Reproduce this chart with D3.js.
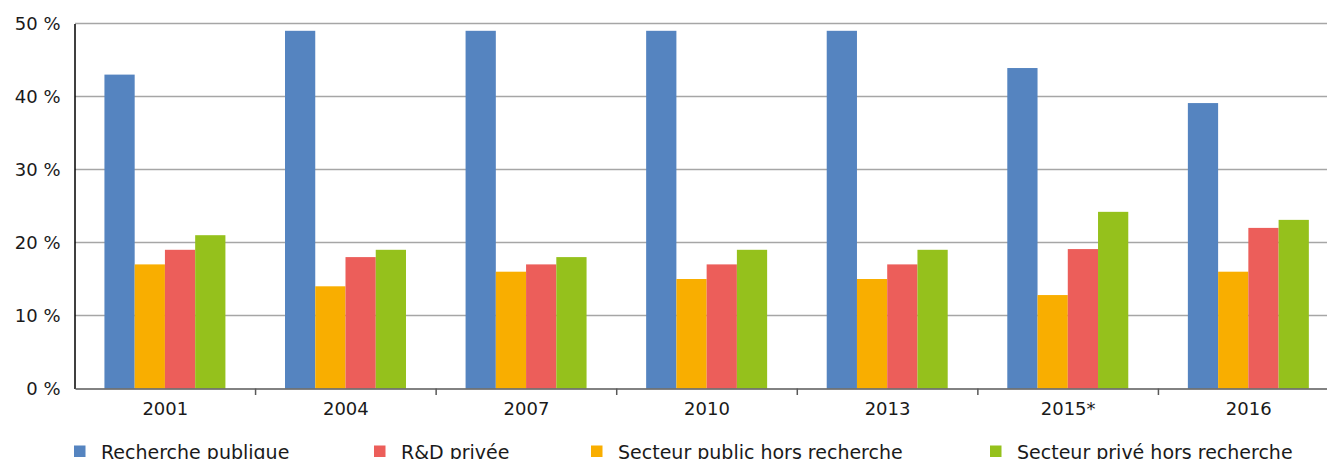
<!DOCTYPE html>
<html>
<head>
<meta charset="utf-8">
<script src="https://cdn.jsdelivr.net/npm/d3@7"></script>
<style>
  body { margin: 0; background: #fff; }
  svg text { font-family: "DejaVu Sans", Lato, sans-serif; fill: #1a1a1a; }
</style>
</head>
<body>
<div id="chart"></div>
<script>
// données
const annees = ["2001", "2004", "2007", "2010", "2013", "2015*", "2016"];
const recherchePublique = [43, 49, 49, 49, 49, 43.9, 39.1];
const secteurPublicHors = [17, 14, 16, 15, 15, 12.8, 16];
const rdPrivee = [19, 18, 17, 17, 17, 19.1, 22];
const secteurPriveHors = [21, 19, 18, 19, 19, 24.2, 23.1];
const yTicks = [0, 10, 20, 30, 40, 50];

// ordre des barres dans chaque groupe
const series = [
  { nom: "Recherche publique", valeurs: recherchePublique, couleur: "#5584c0" },
  { nom: "Secteur public hors recherche", valeurs: secteurPublicHors, couleur: "#f9ae00" },
  { nom: "R&D privée", valeurs: rdPrivee, couleur: "#ec5e5a" },
  { nom: "Secteur privé hors recherche", valeurs: secteurPriveHors, couleur: "#95c11c" }
];
// ordre de la légende
const legende = ["Recherche publique", "R&D privée", "Secteur public hors recherche", "Secteur privé hors recherche"];
const legendeX = [74, 374, 591, 990];

var width = 1327;
var height = 459;

var svg = d3.select("#chart")
  .append("svg")
  .attr("width", width)
  .attr("height", height);

var x0 = d3.scaleBand().domain(annees).range([75, 1339]).padding(0);
var bw = x0.bandwidth();
var x1 = d3.scaleBand().domain(series.map(function (s) { return s.nom; }))
  .range([bw * 0.163, bw * 0.833]).padding(0);
var y = d3.scaleLinear().domain([0, 50]).range([388.5, 23.5]);

// grille
svg.append("g")
  .selectAll("line")
  .data(yTicks.filter(function (d) { return d > 0; }))
  .enter()
  .append("line")
  .attr("x1", 75)
  .attr("x2", width)
  .attr("y1", function (d) { return y(d); })
  .attr("y2", function (d) { return y(d); })
  .attr("stroke", "#a6a6a6")
  .attr("stroke-width", 1.6);

// barres
var groupes = svg.append("g")
  .selectAll("g")
  .data(annees)
  .enter()
  .append("g")
  .attr("transform", function (d) { return "translate(" + x0(d) + ",0)"; });

groupes.selectAll("rect")
  .data(function (d, i) {
    return series.map(function (s) { return { nom: s.nom, v: s.valeurs[i], couleur: s.couleur }; });
  })
  .enter()
  .append("rect")
  .attr("x", function (d) { return x1(d.nom); })
  .attr("y", function (d) { return y(d.v); })
  .attr("width", x1.bandwidth())
  .attr("height", function (d) { return y(0) - y(d.v); })
  .attr("fill", function (d) { return d.couleur; });

// axe y
var axeY = svg.append("g")
  .attr("transform", "translate(74.5,0)")
  .call(d3.axisLeft(y).tickValues(yTicks).tickSize(0).tickPadding(14)
    .tickFormat(function (d) { return d + " %"; }));
axeY.select(".domain").attr("stroke", "#000").attr("stroke-width", 1.5);
axeY.selectAll("text").attr("font-size", 18).attr("dy", "0.36em");

// axe x
var axeX = svg.append("g")
  .attr("transform", "translate(0,388.5)")
  .call(d3.axisBottom(x0).tickSize(0).tickPadding(14));
axeX.select(".domain").attr("stroke", "#595959").attr("stroke-width", 1.5);
axeX.selectAll("text").attr("font-size", 18);

// petits traits entre les groupes
svg.append("g")
  .selectAll("line")
  .data(annees)
  .enter()
  .append("line")
  .attr("x1", function (d) { return x0(d) + bw; })
  .attr("x2", function (d) { return x0(d) + bw; })
  .attr("y1", 388.5)
  .attr("y2", 395)
  .attr("stroke", "#595959")
  .attr("stroke-width", 1.5);

// légende
var couleurs = {};
series.forEach(function (s) { couleurs[s.nom] = s.couleur; });
var leg = svg.append("g")
  .selectAll("g")
  .data(legende)
  .enter()
  .append("g")
  .attr("transform", function (d, i) { return "translate(" + legendeX[i] + ",0)"; });
leg.append("rect")
  .attr("x", 0)
  .attr("y", 445.5)
  .attr("width", 11.5)
  .attr("height", 11.5)
  .attr("fill", function (d) { return couleurs[d]; });
leg.append("text")
  .attr("x", 27)
  .attr("y", 459)
  .attr("font-size", 19)
  .text(function (d) { return d; });
</script>
</body>
</html>
